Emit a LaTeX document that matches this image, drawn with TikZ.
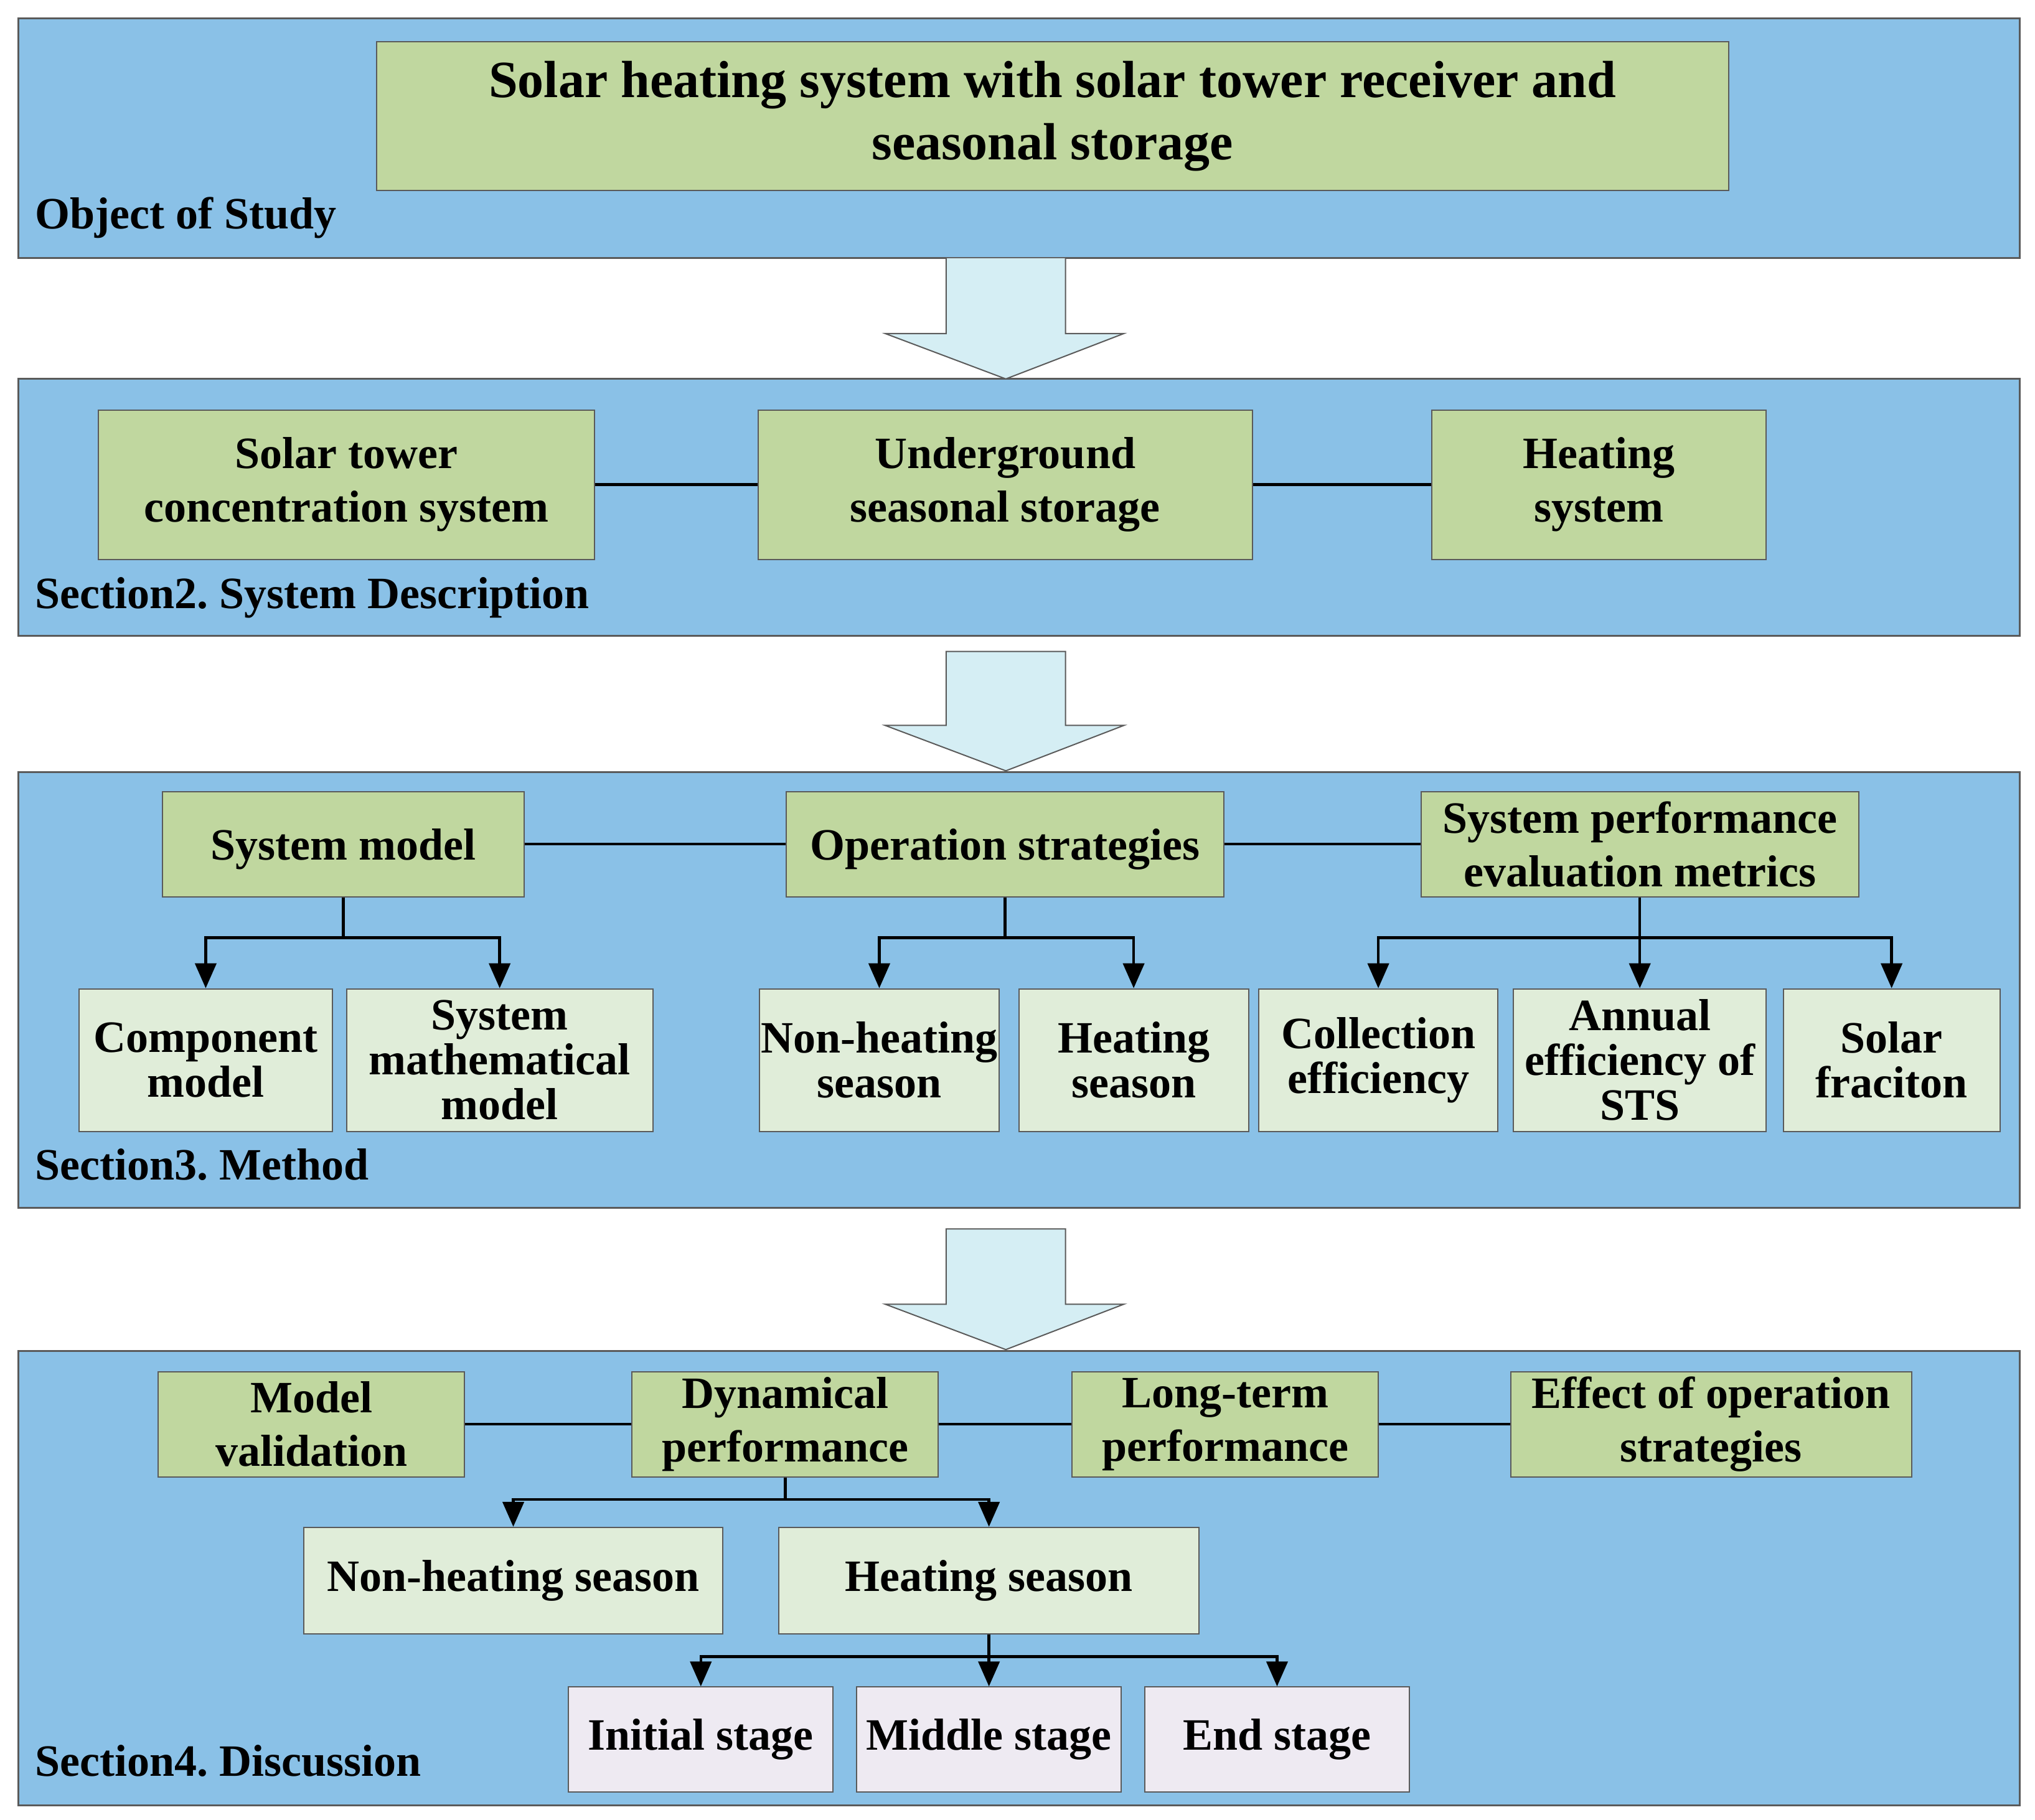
\documentclass[tikz,border=0pt]{standalone}
\usepackage{fontspec}
\setmainfont{Liberation Serif}
\usetikzlibrary{arrows.meta}
\definecolor{panelblue}{HTML}{8AC1E7}
\definecolor{boxgreen}{HTML}{C0D79F}
\definecolor{lightgreen}{HTML}{E0EDD9}
\definecolor{lavender}{HTML}{EEEAF2}
\definecolor{arrowfill}{HTML}{D5EEF4}
\definecolor{edgegray}{HTML}{5A5A5A}
\newcommand\mytxt{\frenchspacing\bfseries\fontsize{72}{86}\selectfont}
\newcommand\mytitle{\frenchspacing\bfseries\fontsize{84}{100}\selectfont}
\newcommand\mytight{\frenchspacing\bfseries\fontsize{72}{72}\selectfont}
% box: style, x1, y1, x2, y2, name, text
\newcommand\bx[7]{\node[#1,minimum width={(#4-#2)*2.0848pt},minimum height={(#5-#3)*2.0848pt}] (#6) at ({(#2+#4)/2},{(#3+#5)/2}) {#7};}
\begin{document}
\begin{tikzpicture}[x=2.0848pt,y=-2.0848pt,
  panel/.style={fill=panelblue,draw=edgegray,line width=3pt},
  boxbase/.style={draw=edgegray,line width=2pt,inner sep=0pt,align=center,font=\mytxt},
  gbox/.style={boxbase,fill=boxgreen},
  lbox/.style={boxbase,fill=lightgreen},
  vbox/.style={boxbase,fill=lavender},
  lbl/.style={font=\mytxt,inner sep=0pt,anchor=base west},
  bigarrow/.style={fill=arrowfill,draw=edgegray,line width=2pt},
  link/.style={line width=4.5pt},
  conn/.style={line width=4.5pt,-{Triangle[width=34pt,length=40pt]}}]
\useasboundingbox (0,0) rectangle (1568,1402.5);

% panels
\draw[panel] (14,14) rectangle (1556,199);
\draw[panel] (14,292) rectangle (1556,490);
\draw[panel] (14,595) rectangle (1556,931);
\draw[panel] (14,1041) rectangle (1556,1391);

% block arrows
\draw[bigarrow] (729,199) -- (729,257) -- (682,257) -- (775,292) -- (866,257) -- (821,257) -- (821,199);
\draw[bigarrow] (729,502) -- (729,559) -- (682,559) -- (775,594) -- (866,559) -- (821,559) -- (821,502) -- cycle;
\draw[bigarrow] (729,947) -- (729,1005) -- (682,1005) -- (775,1040) -- (866,1005) -- (821,1005) -- (821,947) -- cycle;

% labels
\node[lbl] (l1) at (27,176.5) {Object of Study};
\node[lbl] (l2) at (27,469) {Section2. System Description};
\node[lbl] (l3) at (27,909) {Section3. Method};
\node[lbl] (l4) at (27,1368.5) {Section4. Discussion};

% object
\bx{gbox,font=\mytitle}{290}{32}{1332}{147}{title}{Solar heating system with solar tower receiver and\\seasonal storage}

% section 2
\bx{gbox}{76}{316}{458}{431}{sts}{Solar tower\\concentration system}
\bx{gbox}{584}{316}{965}{431}{ugs}{Underground\\seasonal storage}
\bx{gbox}{1103}{316}{1361}{431}{hsys}{Heating\\system}
\draw[link] (sts.east) -- (ugs.west);
\draw[link] (ugs.east) -- (hsys.west);

% section 3
\bx{gbox,text depth=0pt}{125}{610}{404}{691}{sm}{System model}
\bx{gbox,text depth=0pt}{606}{610}{943}{691}{os}{Operation strategies}
\bx{gbox}{1095}{610}{1432}{691}{pm}{System performance\\evaluation metrics}
\draw[link] (sm.east) -- (os.west);
\draw[link] (os.east) -- (pm.west);

\bx{lbox,font=\mytight}{61}{762}{256}{872}{cm}{Component\\model}
\bx{lbox,font=\mytight}{267}{762}{503}{872}{smm}{System\\mathematical\\model}
\bx{lbox,font=\mytight}{585}{762}{770}{872}{nh}{Non-heating\\season}
\bx{lbox,font=\mytight}{785}{762}{962}{872}{hsn}{Heating\\season}
\bx{lbox,font=\mytight}{970}{762}{1154}{872}{ce}{Collection\\efficiency}
\bx{lbox,font=\mytight}{1166}{762}{1361}{872}{ae}{Annual\\efficiency of\\STS}
\bx{lbox,font=\mytight}{1374}{762}{1541}{872}{sf}{Solar\\fraciton}

\draw[conn] (sm.south) -- ++(0,31) -| (cm.north);
\draw[conn] (sm.south) -- ++(0,31) -| (smm.north);
\draw[conn] (os.south) -- ++(0,31) -| (nh.north);
\draw[conn] (os.south) -- ++(0,31) -| (hsn.north);
\draw[conn] (pm.south) -- ++(0,31) -| (ce.north);
\draw[conn] (pm.south) -- (ae.north);
\draw[conn] (pm.south) -- ++(0,31) -| (sf.north);

% section 4
\bx{gbox}{122}{1057}{358}{1138}{mv}{Model\\validation}
\bx{gbox}{487}{1057}{723}{1138}{dp}{Dynamical\\performance}
\bx{gbox}{826}{1057}{1062}{1138}{lt}{Long-term\\performance}
\bx{gbox}{1164}{1057}{1473}{1138}{eo}{Effect of operation\\strategies}
\draw[link] (mv.east) -- (dp.west);
\draw[link] (dp.east) -- (lt.west);
\draw[link] (lt.east) -- (eo.west);

\bx{lbox}{234}{1177}{557}{1259}{nh2}{Non-heating season}
\bx{lbox}{600}{1177}{924}{1259}{hs2}{Heating season}
\draw[conn] (dp.south) -- ++(0,17) -| (nh2.north);
\draw[conn] (dp.south) -- ++(0,17) -| (hs2.north);

\bx{vbox}{438}{1300}{642}{1381}{is}{Initial stage}
\bx{vbox}{660}{1300}{864}{1381}{ms}{Middle stage}
\bx{vbox}{882}{1300}{1086}{1381}{es}{End stage}
\draw[conn] (hs2.south) -- ++(0,17) -| (is.north);
\draw[conn] (hs2.south) -- (ms.north);
\draw[conn] (hs2.south) -- ++(0,17) -| (es.north);
\end{tikzpicture}
\end{document}
